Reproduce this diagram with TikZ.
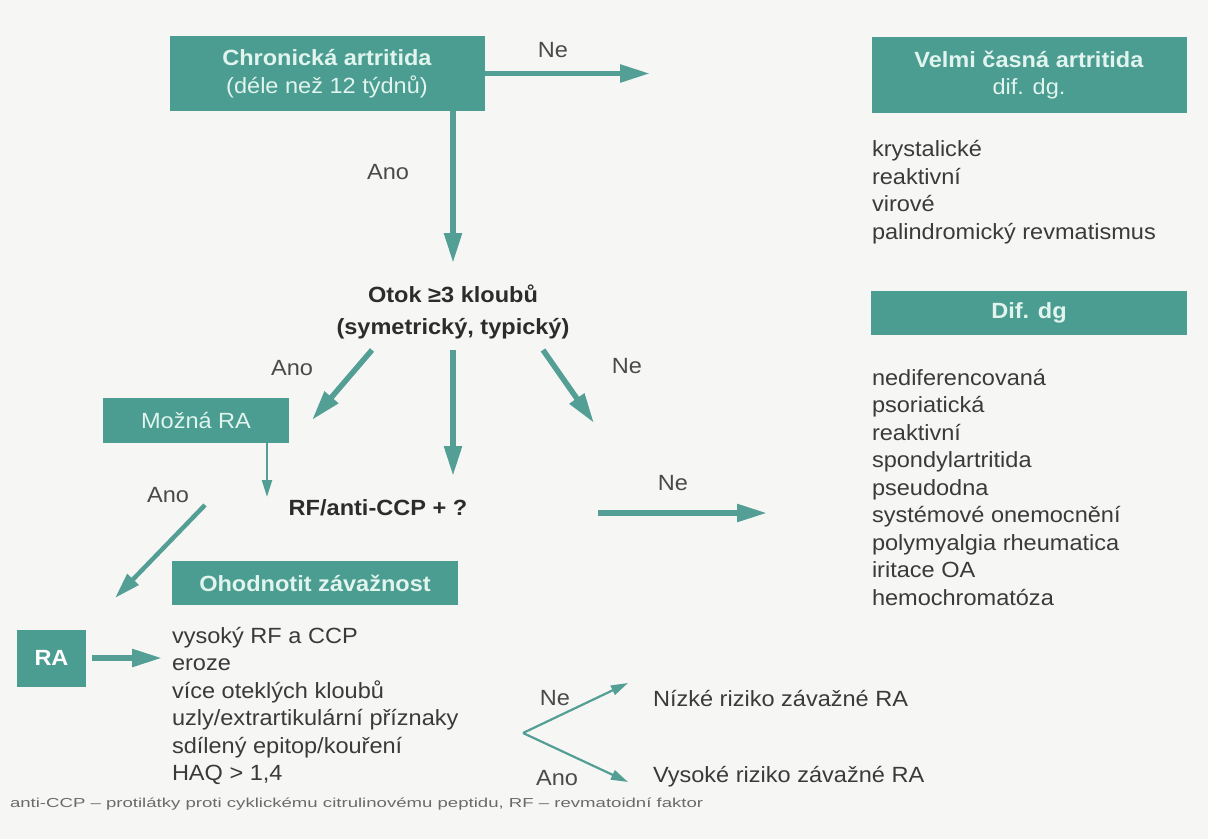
\documentclass[tikz,border=0pt]{standalone}
\usepackage{fontspec}
\setmainfont{Liberation Sans}[FakeStretch=1.07]
\newfontfamily\footfont{Liberation Sans}[FakeStretch=1.43]
\usetikzlibrary{arrows.meta}
\definecolor{teal1}{HTML}{4A9D90}
\definecolor{boxtxt}{HTML}{E2F4EE}
\definecolor{arr}{HTML}{549F95}
\definecolor{txt}{HTML}{3A3A3A}
\definecolor{dark}{HTML}{2C2C2C}
\definecolor{lblc}{HTML}{4A4A4A}
\definecolor{bg}{HTML}{F6F7F5}
\definecolor{footc}{HTML}{6A6A6A}
\begin{document}
\begin{tikzpicture}[x=1pt,y=-1pt,
  every node/.style={font=\fontsize{22}{27.5}\selectfont, text=txt, inner sep=0pt, outer sep=0pt},
  tbox/.style={fill=teal1, text=boxtxt, align=center},
  bigarrow/.style={draw=arr, line width=5.5pt, -{Triangle[length=30pt,width=17pt]}},
  midarrow/.style={draw=arr, line width=4.5pt, -{Triangle[length=26pt,width=15pt]}},
  thinarrow/.style={draw=arr, line width=2.2pt, -{Triangle[length=17pt,width=10pt]}},
  lbl/.style={text=lblc},
  lst/.style={align=left, anchor=west},
  hd/.style={text=dark, align=center, font=\fontsize{22}{32}\selectfont\bfseries}]
\useasboundingbox[fill=bg] (0,0) rectangle (1208,839);

% boxes
\node[tbox, minimum width=315pt, minimum height=75pt] (chron) at (327,73.5)
  {\textbf{Chronická artritida}\\(déle než 12 týdnů)};
\node[tbox, minimum width=315pt, minimum height=76pt] (velmi) at (1029,75)
  {\textbf{Velmi časná artritida}\\dif. dg.};
\node[tbox, minimum width=316pt, minimum height=44pt] (difdg) at (1029,313)
  {\textbf{Dif. dg}};
\node[tbox, minimum width=186pt, minimum height=45pt] (mozna) at (196,420.5)
  {Možná RA};
\node[tbox, minimum width=286pt, minimum height=44pt] (ohod) at (315,583)
  {\textbf{Ohodnotit závažnost}};
\node[tbox, minimum width=69pt, minimum height=57pt, text=white] (ra) at (51.5,658)
  {\textbf{RA}};

% lists
\node[lst] (listA) at (872,192)
  {krystalické\\reaktivní\\virové\\palindromický revmatismus};
\node[lst] (listB) at (872,487)
  {nediferencovaná\\psoriatická\\reaktivní\\spondylartritida\\pseudodna\\systémové onemocnění\\polymyalgia rheumatica\\iritace OA\\hemochromatóza};
\node[lst] (listC) at (172,706)
  {vysoký RF a CCP\\eroze\\více oteklých kloubů\\uzly/extrartikulární příznaky\\sdílený epitop/kouření\\HAQ > 1,4};

% decision texts
\node[hd] (otok) at (453,312) {Otok ≥3 kloubů\\(symetrický, typický)};
\node[hd] (rf) at (378,508) {RF/anti-CCP + ?};
\node[anchor=west] (nizke) at (653,698) {Nízké riziko závažné RA};
\node[anchor=west] (vysoke) at (653,777) {Vysoké riziko závažné RA};

% labels
\node[lbl] (l1) at (553,50) {Ne};
\node[lbl] (l2) at (388,172) {Ano};
\node[lbl] (l3) at (292,368) {Ano};
\node[lbl] (l4) at (627,366) {Ne};
\node[lbl] (l5) at (168,495) {Ano};
\node[lbl] (l6) at (673,483) {Ne};
\node[lbl] (l7) at (555,698) {Ne};
\node[lbl] (l8) at (557,778) {Ano};

% connector coordinates
\coordinate (cNe) at (650,73.5);
\coordinate (a1s) at (453,111);
\coordinate (a1e) at (453,263);
\coordinate (oL) at (372,350);
\coordinate (oLe) at (312,420);
\coordinate (oC) at (453,350);
\coordinate (oCe) at (453,476);
\coordinate (oR) at (543,350);
\coordinate (oRe) at (594,423);
\coordinate (mS) at (267,443);
\coordinate (mE) at (267,497);
\coordinate (dS) at (205,505);
\coordinate (dE) at (115,598);
\coordinate (nS) at (598,513);
\coordinate (nE) at (767,513);
\coordinate (raE) at (162,658);
\coordinate (br) at (523,733);
\coordinate (brU) at (628,683);
\coordinate (brD) at (628,782);

% connectors
\draw[bigarrow] (chron.east) -- (cNe);
\draw[bigarrow] (a1s) -- (a1e);
\draw[bigarrow] (oL) -- (oLe);
\draw[bigarrow] (oC) -- (oCe);
\draw[bigarrow] (oR) -- (oRe);
\draw[thinarrow] (mS) -- (mE);
\draw[midarrow] (dS) -- (dE);
\draw[bigarrow] (nS) -- (nE);
\draw[bigarrow, shorten <=6pt] (ra.east) -- (raE);
\draw[thinarrow] (br) -- (brU);
\draw[thinarrow] (br) -- (brD);

% footnote
\node[anchor=west, font=\footfont\fontsize{13}{15}\selectfont, text=footc] (foot) at (10,804)
  {anti-CCP – protilátky proti cyklickému citrulinovému peptidu, RF – revmatoidní faktor};
\end{tikzpicture}
\end{document}
